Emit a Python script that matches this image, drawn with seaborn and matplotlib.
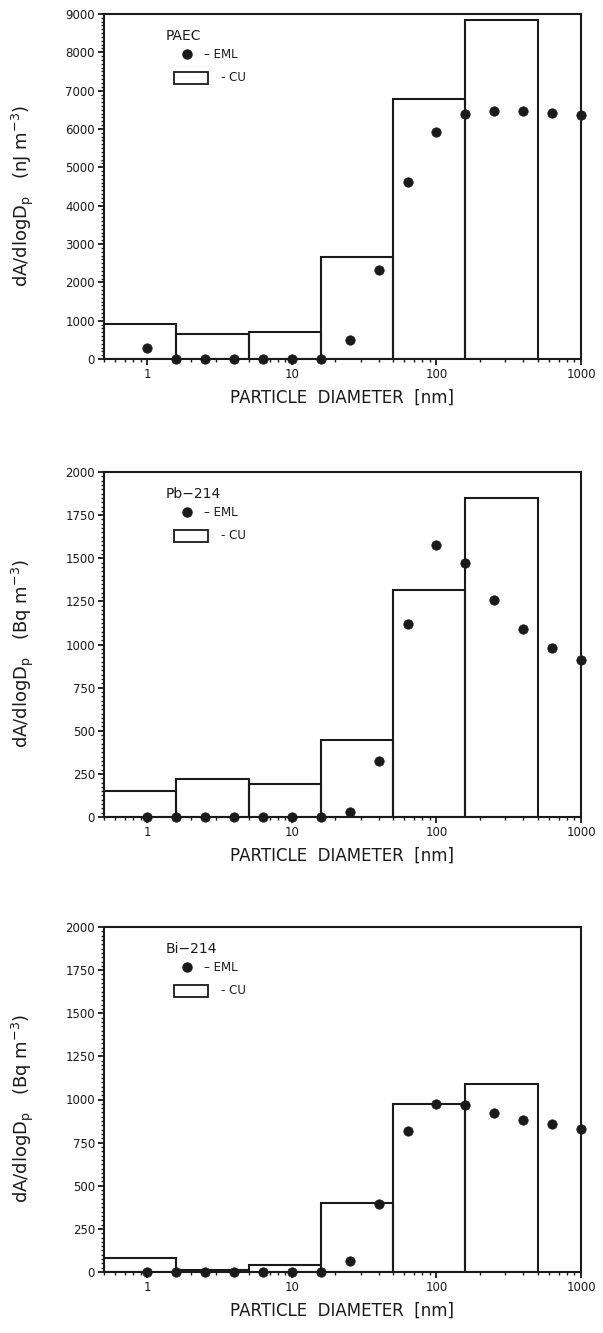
import numpy as np
import matplotlib
matplotlib.use("Agg")
import matplotlib.pyplot as plt
from matplotlib.patches import Rectangle
from matplotlib.ticker import MultipleLocator, LogLocator, FixedLocator, FixedFormatter, NullFormatter
import seaborn as sns
import pandas as pd

# Particle size grid (nm)
eml_diam = [1.0, 1.585, 2.512, 3.981, 6.310, 10.0, 15.85, 25.12, 39.81,
            63.10, 100.0, 158.5, 251.2, 398.1, 631.0, 1000.0]
cu_edges = [0.5, 1.585, 5.0, 15.85, 50.0, 158.5, 500.0]

# PAEC (nJ m^-3)
paec_eml = [300, 0, 0, 0, 0, 0, 10, 500, 2310, 4630, 5930, 6385, 6470, 6470, 6410, 6375]
paec_cu = [915, 645, 705, 2650, 6785, 8850]

# Pb-214 (Bq m^-3)
pb_eml = [0, 0, 0, 0, 0, 0, 0, 29, 325, 1121, 1575, 1474, 1256, 1090, 982, 908]
pb_cu = [150, 222, 193, 448, 1318, 1848]

# Bi-214 (Bq m^-3)
bi_eml = [0, 0, 0, 0, 0, 0, 0, 64, 396, 817, 976, 966, 921, 881, 856, 831]
bi_cu = [81, 12, 42, 402, 976, 1088]

panel_names = ["PAEC", "Pb\u2212214", "Bi\u2212214"]
units = ["nJ", "Bq", "Bq"]
y_max = [9000, 2000, 2000]
y_major = [1000, 250, 250]
y_minor = [100, 25, 25]

sns.set_theme(style="ticks")
plt.rcParams["font.family"] = ["DejaVu Sans"]
plt.rcParams["mathtext.fontset"] = "dejavusans"

fig = plt.figure(figsize=(6.03, 13.33), dpi=100)
fig.patch.set_facecolor("white")

ink = "#1a1a1a"
W, H = 603.0, 1333.0
left_px, right_px = 104.0, 581.0
panels_px = [(14.0, 359.0), (472.0, 817.0), (927.0, 1272.0)]

datasets = [(paec_eml, paec_cu), (pb_eml, pb_cu), (bi_eml, bi_cu)]

for i, ((eml, cu), (top, bot)) in enumerate(zip(datasets, panels_px)):
    ax = fig.add_axes([left_px / W, 1 - bot / H, (right_px - left_px) / W, (bot - top) / H])
    ax.set_facecolor("white")
    ax.set_xscale("log")

    # CU: open histogram bars over half-decade bins
    lefts = np.array(cu_edges[:-1])
    widths = np.array(cu_edges[1:]) - lefts
    ax.bar(lefts, cu, width=widths, align="edge", facecolor="none",
           edgecolor=ink, linewidth=1.5, zorder=2)

    # EML: filled dots
    df = pd.DataFrame({"d": eml_diam, "v": eml})
    sns.scatterplot(data=df, x="d", y="v", ax=ax, color=ink, s=46,
                    edgecolor=ink, linewidth=0.5, zorder=3, clip_on=False)

    ax.set_xlim(0.5, 1000)
    ax.set_ylim(0, y_max[i])

    ax.xaxis.set_major_locator(FixedLocator([1, 10, 100, 1000]))
    ax.xaxis.set_major_formatter(FixedFormatter(["1", "10", "100", "1000"]))
    ax.xaxis.set_minor_locator(LogLocator(base=10, subs=np.arange(2, 10)))
    ax.xaxis.set_minor_formatter(NullFormatter())
    ax.yaxis.set_major_locator(MultipleLocator(y_major[i]))
    ax.yaxis.set_minor_locator(MultipleLocator(y_minor[i]))

    ax.tick_params(axis="both", which="major", direction="out", length=4,
                   width=1.3, color=ink, labelsize=8.5, labelcolor=ink, pad=2.5)
    ax.tick_params(axis="both", which="minor", direction="out", length=2.2,
                   width=1.0, color=ink)
    for s in ax.spines.values():
        s.set_linewidth(1.5)
        s.set_color(ink)
        s.set_visible(True)

    ax.set_xlabel("PARTICLE  DIAMETER  [nm]", fontsize=12, color=ink)
    ax.xaxis.set_label_coords(0.5, -0.086)
    ax.set_ylabel(r"dA/dlogD$_\mathregular{p}$   (" + units[i] + r" m$^{\mathregular{-3}}$)",
                  fontsize=13, color=ink)
    ax.yaxis.set_label_coords(-0.143, 0.474)

    # key
    ax.text(0.13, 0.935, panel_names[i], transform=ax.transAxes, fontsize=10,
            color=ink, ha="left", va="center")
    ax.plot([0.175], [0.884], "o", transform=ax.transAxes, color=ink, ms=6.5)
    ax.text(0.21, 0.884, "\u2013 EML", transform=ax.transAxes, fontsize=8.5,
            color=ink, ha="left", va="center")
    ax.add_patch(Rectangle((0.147, 0.797), 0.071, 0.035, transform=ax.transAxes,
                           facecolor="white", edgecolor=ink, linewidth=1.3))
    ax.text(0.245, 0.815, "- CU", transform=ax.transAxes, fontsize=8.5,
            color=ink, ha="left", va="center")

fig.savefig("out.png", dpi=100, facecolor="white")
